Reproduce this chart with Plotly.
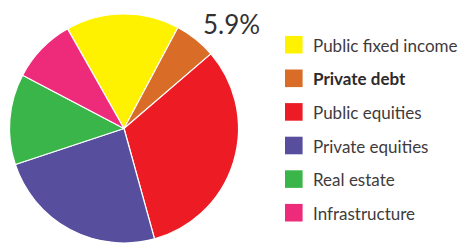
import plotly.graph_objects as go

labels = ["Public fixed income", "Private debt", "Public equities",
          "Private equities", "Real estate", "Infrastructure"]
values = [16.0, 5.9, 32.0, 24.2, 12.8, 9.1]
colors = ["#FFF200", "#D96C27", "#ED1C24", "#574F9D", "#3AB54A", "#EE2A7B"]
highlight = "Private debt"
highlight_label = "5.9%"

W, H = 459, 243

fig = go.Figure(go.Pie(
    labels=labels, values=values, sort=False, direction="clockwise",
    rotation=-29.5,
    marker=dict(colors=colors, line=dict(color="white", width=1.2)),
    textinfo="none", hoverinfo="label+percent", showlegend=False,
    domain=dict(x=[9.5 / W, 238.5 / W], y=[0, 1 - 14 / H]),
))

shapes = []
annotations = []
y0, dy, sq = 44.7, 33.6, 17.6
for i, (lab, col) in enumerate(zip(labels, colors)):
    yc = y0 + dy * i
    shapes.append(dict(type="rect", xref="paper", yref="paper",
                       x0=285 / W, x1=(285 + sq) / W,
                       y0=1 - (yc + sq / 2) / H, y1=1 - (yc - sq / 2) / H,
                       fillcolor=col, line=dict(width=0)))
    bold = lab == highlight
    annotations.append(dict(
        xref="paper", yref="paper", x=310.5 / W, y=1 - (yc + 0.5) / H,
        xanchor="left", yanchor="middle", showarrow=False,
        text=f"<b>{lab}</b>" if bold else lab,
        font=dict(family="Lato, Open Sans, sans-serif", size=17,
                  color="#2e2a2b" if bold else "#3f3b3c")))

annotations.append(dict(
    xref="paper", yref="paper", x=231.5 / W, y=1 - 23.5 / H,
    xanchor="center", yanchor="middle", showarrow=False, text=highlight_label,
    font=dict(family="Lato, Open Sans, sans-serif", size=26, color="#333031")))

fig.update_layout(
    width=W, height=H, margin=dict(l=0, r=0, t=0, b=0),
    paper_bgcolor="white", plot_bgcolor="white",
    shapes=shapes, annotations=annotations,
)

fig.write_html(
    "out.html",
    config={"displayModeBar": False},
    post_script="document.body.style.margin='0';document.body.style.overflow='hidden';",
)
